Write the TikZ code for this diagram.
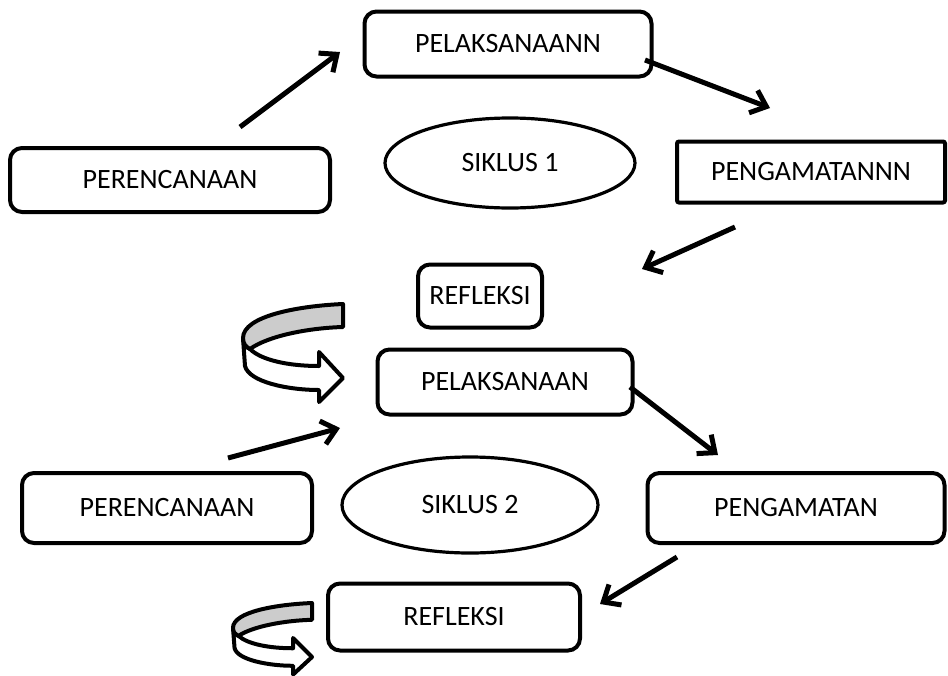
\documentclass[tikz,border=0pt]{standalone}
\usepackage{fontspec}
\setmainfont{Carlito}
\usetikzlibrary{arrows.meta,shapes.geometric}
\tikzset{
  kotak/.style={draw,line width=2pt,rounded corners=6pt,inner sep=0pt,
    font=\fontsize{14}{16}\selectfont},
  siklus/.style={draw,ellipse,line width=1.6pt,inner sep=0pt,
    font=\fontsize{14}{16}\selectfont},
  panah/.style={->,line width=2.5pt},
  putar/.style={line width=2pt,line join=round},
}
\newcommand{\putaran}{%
  \draw[putar,fill=white] (0,34) -- (2,62) .. controls (6,78) and (45,86) .. (76,86)
    -- (76,98) -- (100,74) -- (76,48) -- (76,62)
    .. controls (45,62) and (18,56) .. (7,45) .. controls (3,43) and (0,40) .. (0,34) -- cycle;
  \draw[putar,fill=black!20] (100,0) .. controls (55,2) and (0,12) .. (0,34)
    .. controls (0,40) and (3,43) .. (7,45) .. controls (25,32) and (65,24) .. (100,23) -- cycle;
}

\begin{document}
\begin{tikzpicture}[x=0.5pt,y=-0.5pt,>={Straight Barb[length=7pt,width=12pt]}]
\useasboundingbox (0,0) rectangle (948,675);
% siklus 1
\node[kotak,minimum width=143.5pt,minimum height=32.5pt] (pel1) at (508,44) {PELAKSANAANN};
\node[kotak,minimum width=160pt,minimum height=32pt] (per1) at (170,180) {PERENCANAAN};
\node[siklus,minimum width=125pt,minimum height=45pt] (sik1) at (510,163) {SIKLUS 1};
\node[kotak,rounded corners=1pt,minimum width=134pt,minimum height=30.5pt] (pen1) at (811,172) {PENGAMATANNN};
\node[kotak,minimum width=62pt,minimum height=31.5pt] (ref1) at (480,296) {REFLEKSI};
% siklus 2
\node[kotak,minimum width=127.5pt,minimum height=32.5pt] (pel2) at (505,382) {PELAKSANAAN};
\node[kotak,minimum width=145pt,minimum height=35pt] (per2) at (167,508) {PERENCANAAN};
\node[siklus,minimum width=128pt,minimum height=48pt] (sik2) at (470,505) {SIKLUS 2};
\node[kotak,minimum width=148.5pt,minimum height=35pt] (pen2) at (796,508) {PENGAMATAN};
\node[kotak,minimum width=126pt,minimum height=33.5pt] (ref2) at (454,617) {REFLEKSI};
% ujung panah
\coordinate (a1) at (240,127); \coordinate (b1) at (340,52);
\coordinate (a2) at (645,60);  \coordinate (b2) at (770,108);
\coordinate (a3) at (735,227); \coordinate (b3) at (642,269);
\coordinate (a4) at (228,458); \coordinate (b4) at (340,428);
\coordinate (a5) at (630,387); \coordinate (b5) at (718,455);
\coordinate (a6) at (677,557); \coordinate (b6) at (600,604);
\draw[panah] (a1) -- (b1);
\draw[panah] (a2) -- (b2);
\draw[panah] (a3) -- (b3);
\draw[panah] (a4) -- (b4);
\draw[panah] (a5) -- (b5);
\draw[panah] (a6) -- (b6);
% panah putar
\begin{scope}[shift={(243,304)}]
\putaran
\end{scope}
\begin{scope}[shift={(233,603)},xscale=0.79,yscale=0.73]
\putaran
\end{scope}
\end{tikzpicture}
\end{document}
